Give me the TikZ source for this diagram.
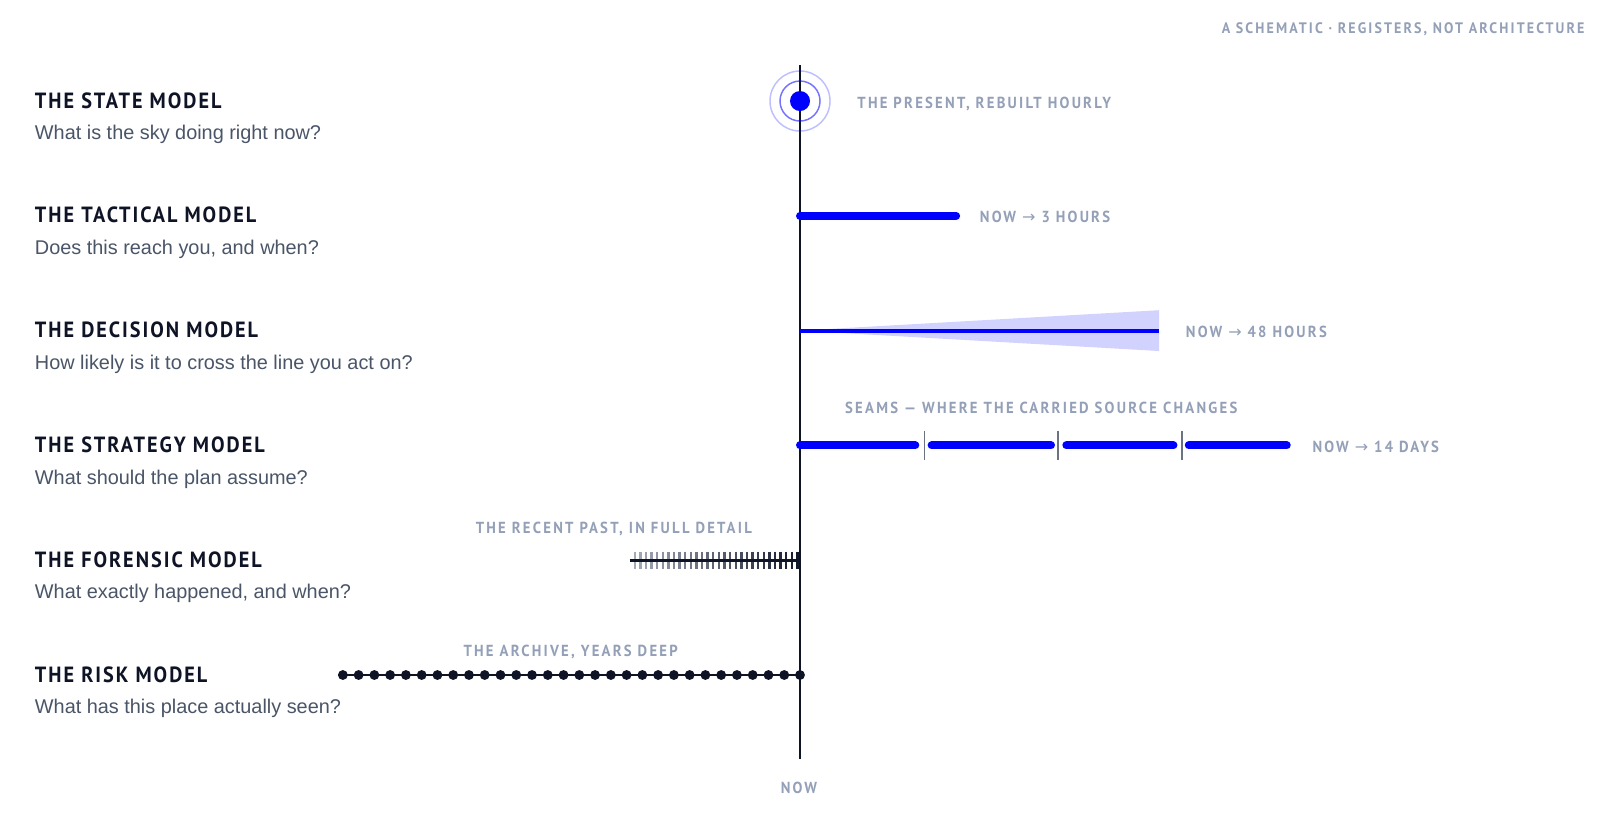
\documentclass[tikz,border=0pt]{standalone}
\usepackage{fontspec}
\setmainfont{Liberation Sans}
\newfontfamily\headfont{PT Sans}[LetterSpace=9,FakeStretch=0.92]
\newfontfamily\capfont{PT Sans}[LetterSpace=14,FakeStretch=0.92]
\newfontfamily\qfont{Liberation Sans}
\newfontfamily\arrowfont{DejaVu Sans}
\newcommand{\rarr}{{\arrowfont\mdseries →}}
\definecolor{ink}{HTML}{0E1326}
\definecolor{qgray}{HTML}{4A5568}
\definecolor{lgray}{HTML}{94A0B8}
\definecolor{vblue}{HTML}{0000FF}
\definecolor{wedgefill}{HTML}{D2D2FF}
\definecolor{seamgray}{HTML}{6B7280}
\definecolor{ticklight}{HTML}{A4AAB8}
\definecolor{tickdark}{HTML}{141A2C}
\tikzset{
  titletext/.style={anchor=base west, inner sep=0pt, font=\headfont\bfseries\fontsize{16.5}{19}\selectfont, text=ink},
  questiontext/.style={anchor=base west, inner sep=0pt, font=\qfont\fontsize{14.9}{18}\selectfont, text=qgray},
  tagtext/.style={anchor=base west, inner sep=0pt, font=\capfont\bfseries\fontsize{12}{14}\selectfont, text=lgray},
  axisline/.style={draw=ink, line width=2.1pt},
  thickblue/.style={draw=vblue, line width=6pt, line cap=round},
  thinblue/.style={draw=vblue, line width=3pt},
  seamline/.style={draw=seamgray, line width=1.4pt},
  darkline/.style={draw=ink, line width=2.3pt},
  tickline/.style={line width=1.8pt},
  archline/.style={draw=ink, line width=1.9pt},
  archdot/.style={fill=ink},
}
\begin{document}
\begin{tikzpicture}[x=0.765pt,y=-0.765pt]
\useasboundingbox (0,0) rectangle (1568,812.5);
\fill[white] (0,0) rectangle (1568,812.5);

% header
\node[tagtext, anchor=base east, font=\capfont\bfseries\fontsize{11.4}{14}\selectfont] (hdr) at (1553,32.5) {A SCHEMATIC · REGISTERS, NOT ARCHITECTURE};

% left column
\node[titletext] (t1) at (34,106) {THE STATE MODEL};
\node[questiontext] (q1) at (34,137) {What is the sky doing right now?};
\node[titletext] (t2) at (34,218.5) {THE TACTICAL MODEL};
\node[questiontext] (q2) at (34,249.5) {Does this reach you, and when?};
\node[titletext] (t3) at (34,331) {THE DECISION MODEL};
\node[questiontext] (q3) at (34,362) {How likely is it to cross the line you act on?};
\node[titletext] (t4) at (34,443.5) {THE STRATEGY MODEL};
\node[questiontext] (q4) at (34,474.5) {What should the plan assume?};
\node[titletext] (t5) at (34,556) {THE FORENSIC MODEL};
\node[questiontext] (q5) at (34,587) {What exactly happened, and when?};
\node[titletext] (t6) at (34,668.5) {THE RISK MODEL};
\node[questiontext] (q6) at (34,699.5) {What has this place actually seen?};

% axis
\coordinate (axtop) at (784,64);
\coordinate (axbot) at (784,744);
\draw[axisline] (axtop) -- (axbot);
\node[tagtext, anchor=base] (now) at (783,778) {NOW};

% state model
\coordinate (st) at (784,99);
\draw[vblue, opacity=0.25, line width=1.1pt] (st) circle[radius=22.5pt];
\draw[vblue, opacity=0.55, line width=1.1pt] (st) circle[radius=15pt];
\fill[vblue] (st) circle[radius=7.5pt];
\node[tagtext] (l1) at (840,106) {THE PRESENT, REBUILT HOURLY};

% tactical
\coordinate (ta0) at (784,211.5);
\coordinate (ta1) at (937,211.5);
\draw[thickblue] (ta0) -- (ta1);
\node[tagtext] (l2) at (960,218.5) {NOW \rarr\ 3 HOURS};

% decision
\coordinate (de0) at (784,324);
\coordinate (de1) at (1136,324);
\coordinate (deT) at (1136,304);
\coordinate (deB) at (1136,344);
\fill[wedgefill] (de0) -- (deT) -- (deB) -- cycle;
\draw[thinblue] (de0) -- (de1);
\node[tagtext] (l3) at (1162,331) {NOW \rarr\ 48 HOURS};

% strategy
\foreach \a/\b [count=\k] in {784/897, 913/1030, 1045/1150, 1165/1261}{
  \coordinate (sa\k) at (\a,436.5);
  \coordinate (sb\k) at (\b,436.5);
  \draw[thickblue] (sa\k) -- (sb\k);
}
\foreach \s [count=\k] in {906,1037,1158}{
  \coordinate (sm\k a) at (\s,422);
  \coordinate (sm\k b) at (\s,451);
  \draw[seamline] (sm\k a) -- (sm\k b);
}
\node[tagtext] (l4a) at (828,405) {SEAMS — WHERE THE CARRIED SOURCE CHANGES};
\node[tagtext] (l4) at (1286,443.5) {NOW \rarr\ 14 DAYS};

% forensic
\foreach \i in {0,...,29}{
  \pgfmathsetmacro\pc{100*\i/29}
  \coordinate (fk\i a) at ({622+\i*5.5},540.5);
  \coordinate (fk\i b) at ({622+\i*5.5},557.5);
  \draw[tickline, draw=tickdark!\pc!ticklight] (fk\i a) -- (fk\i b);
}
\coordinate (fo0) at (617,549);
\coordinate (fo1) at (784,549);
\draw[darkline] (fo0) -- (fo1);
\node[tagtext] (l5) at (466,523) {THE RECENT PAST, IN FULL DETAIL};

% risk
\coordinate (ri0) at (336,661.5);
\coordinate (ri1) at (784,661.5);
\draw[archline] (ri0) -- (ri1);
\foreach \i in {0,...,29}{
  \coordinate (rd\i) at ({336+\i*448/29},661.5);
  \fill[archdot] (rd\i) circle[radius=3.7pt];
}
\node[tagtext] (l6) at (454,643) {THE ARCHIVE, YEARS DEEP};
\end{tikzpicture}
\end{document}
